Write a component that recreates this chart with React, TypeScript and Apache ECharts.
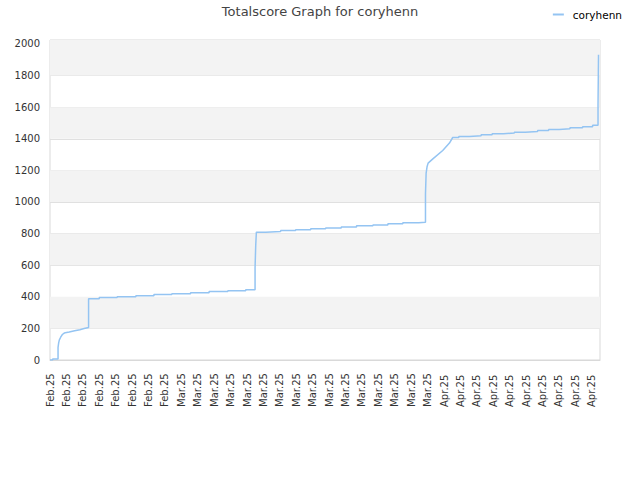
import { useEffect, useRef } from 'react';
import * as echarts from 'echarts';

// tick labels along the bottom (one per x unit)
const xLabels = [
  'Feb.25', 'Feb.25', 'Feb.25', 'Feb.25', 'Feb.25', 'Feb.25', 'Feb.25', 'Feb.25',
  'Mar.25', 'Mar.25', 'Mar.25', 'Mar.25', 'Mar.25', 'Mar.25', 'Mar.25', 'Mar.25',
  'Mar.25', 'Mar.25', 'Mar.25', 'Mar.25', 'Mar.25', 'Mar.25', 'Mar.25', 'Mar.25',
  'Apr.25', 'Apr.25', 'Apr.25', 'Apr.25', 'Apr.25', 'Apr.25', 'Apr.25', 'Apr.25',
  'Apr.25', 'Apr.25',
];

const xMax = 33.5;
const yMax = 2025;
const yStep = 200;

// [x position, total score] vertices of the score line
const scorePoints: [number, number][] = [
  [0, 0], [0.16, 0], [0.16, 6], [0.49, 6], [0.49, 80], [0.53, 110], [0.57, 127],
  [0.65, 144], [0.71, 155], [0.77, 163], [0.85, 169], [0.93, 173], [1.17, 177],
  [1.5, 185], [1.82, 192], [2.08, 199], [2.35, 205], [2.35, 388],
  [3.0, 388], [3.0, 395], [4.09, 395], [4.09, 401], [5.23, 401], [5.23, 407],
  [6.33, 407], [6.33, 414], [7.42, 414], [7.42, 420], [8.56, 420], [8.56, 426],
  [9.69, 426], [9.69, 433], [10.83, 433], [10.83, 439], [11.92, 439], [11.92, 445],
  [12.49, 445], [12.49, 584], [12.53, 725], [12.57, 809],
  [13.14, 809], [13.14, 813], [14.05, 813], [14.05, 819], [14.96, 819], [14.96, 824],
  [15.88, 824], [15.88, 830], [16.79, 830], [16.79, 835], [17.74, 835], [17.74, 841],
  [18.67, 841], [18.67, 849], [19.67, 849], [19.67, 855], [20.58, 855], [20.58, 862],
  [21.49, 862], [21.49, 868], [22.46, 868], [22.46, 872], [22.87, 872], [22.87, 1052],
  [22.91, 1183], [22.97, 1225], [23.03, 1246], [23.32, 1273], [23.92, 1326],
  [24.33, 1373], [24.53, 1408],
  [24.9, 1408], [24.9, 1415], [25.55, 1415], [25.55, 1419], [26.26, 1419], [26.26, 1425],
  [26.93, 1425], [26.93, 1432], [27.62, 1432], [27.62, 1436], [28.28, 1436], [28.28, 1442],
  [28.95, 1442], [28.95, 1446], [29.7, 1446], [29.7, 1453], [30.37, 1453], [30.37, 1459],
  [31.02, 1459], [31.02, 1463], [31.67, 1463], [31.67, 1470], [32.44, 1470], [32.44, 1476],
  [33.05, 1476], [33.05, 1486], [33.38, 1486], [33.38, 1615], [33.41, 1615], [33.41, 1932],
];

const lineColor = '#94c4f2';

const App = () => {
  const chartRef = useRef<HTMLDivElement>(null);

  useEffect(() => {
    if (!chartRef.current) return;
    const chart = echarts.init(chartRef.current, null, { renderer: 'svg' });

    // grey bands between every other pair of y ticks, the top one running to the axis max
    const greyBands: any[] = [];
    for (let v = yStep; v < yMax; v += 2 * yStep) {
      const next = v + yStep + yStep > yMax ? yMax : v + yStep;
      greyBands.push([{ yAxis: v }, { yAxis: next }]);
    }

    const options: echarts.EChartsOption = {
      animation: false,
      backgroundColor: '#fff',
      textStyle: { fontFamily: 'DejaVu Sans' },
      title: {
        text: 'Totalscore Graph for coryhenn',
        left: 'center',
        top: 5,
        padding: 0,
        textStyle: { fontSize: 13, fontWeight: 'normal', color: '#444', fontFamily: 'DejaVu Sans' },
      },
      legend: {
        data: [{ name: 'coryhenn', icon: 'rect' }],
        right: 18,
        top: 9,
        padding: 0,
        itemWidth: 11,
        itemHeight: 2,
        textStyle: { fontSize: 10.5, color: '#000', padding: [0, 0, 0, 4] },
      },
      grid: {
        left: 50,
        right: 40,
        top: 40,
        bottom: 120,
        show: true,
        backgroundColor: 'transparent',
        borderColor: '#d9d9d9',
        borderWidth: 1,
      },
      xAxis: {
        type: 'value',
        min: 0,
        max: xMax,
        interval: 1,
        z: 1,
        axisLine: { lineStyle: { color: '#d9d9d9' } },
        axisTick: { show: false },
        splitLine: { show: false },
        axisLabel: {
          rotate: 90,
          align: 'left',
          margin: 47,
          fontSize: 10,
          color: '#333',
          showMaxLabel: false,
          formatter: (v: number) => (Number.isInteger(v) ? xLabels[v] ?? '' : ''),
        },
      },
      yAxis: {
        type: 'value',
        min: 0,
        max: yMax,
        interval: yStep,
        z: 1,
        axisLine: { show: false },
        axisTick: { show: false },
        splitLine: { lineStyle: { color: '#e0e0e0', width: 1 } },
        axisLabel: {
          fontSize: 10,
          color: '#333',
          margin: 10,
          showMaxLabel: false,
          formatter: (v: number) => (v % yStep === 0 ? String(v) : ''),
        },
      },
      series: [
        {
          name: 'bands',
          type: 'line',
          z: 0,
          data: [],
          silent: true,
          markArea: {
            silent: true,
            itemStyle: { color: '#f3f3f3' },
            data: greyBands,
          },
        },
        {
          name: 'coryhenn',
          type: 'line',
          z: 2,
          showSymbol: false,
          symbol: 'none',
          data: scorePoints,
          itemStyle: { color: lineColor },
          lineStyle: { color: lineColor, width: 1.5 },
        },
      ],
    };

    chart.setOption(options);

    return () => {
      chart.dispose();
    };
  }, []);

  return (
    <div
      ref={chartRef}
      style={{ position: 'fixed', left: 0, top: 0, width: '640px', height: '480px' }}
    />
  );
};

export default App;
